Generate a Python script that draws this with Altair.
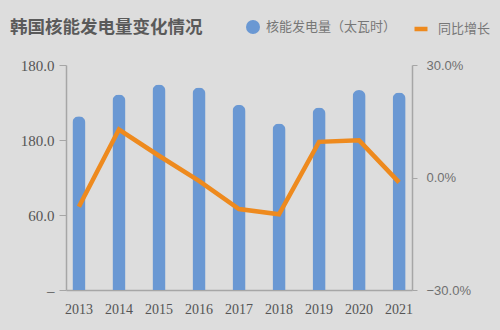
import altair as alt
import pandas as pd

years = ["2013", "2014", "2015", "2016", "2017", "2018", "2019", "2020", "2021"]
generation = [139.0, 156.4, 164.5, 162.0, 148.2, 133.3, 146.0, 160.0, 158.0]
growth_pct = [-7.8, 12.8, 5.8, -0.9, -8.4, -9.8, 9.5, 9.9, -1.3]

gen_name = "核能发电量（太瓦时）"
growth_name = "同比增长"

df = pd.DataFrame({
    "year": years,
    "gen": generation,
    "growth": [g / 100 for g in growth_pct],
    "gen_label": gen_name,
    "growth_label": growth_name,
})

BLUE = "#6A98D3"
ORANGE = "#EE8A1E"
AXIS = "#A6A6A6"

x_enc = alt.X(
    "year:N",
    title=None,
    scale=alt.Scale(paddingInner=0.675, paddingOuter=0.16),
    axis=alt.Axis(labelAngle=0, ticks=False, domain=True, domainColor=AXIS,
                  domainWidth=1.5, labelFont="Liberation Serif", labelFontSize=14,
                  labelColor="#555555", labelPadding=12),
)

bars = alt.Chart(df).mark_bar(
    cornerRadiusTopLeft=6.5, cornerRadiusTopRight=6.5
).encode(
    x=x_enc,
    y=alt.Y("gen:Q", title=None,
            scale=alt.Scale(domain=[0, 180], nice=False),
            axis=alt.Axis(values=[0, 60, 120, 180], grid=False,
                          labelExpr="datum.value == 0 ? '–' : (datum.value == 120 ? '180.0' : format(datum.value, '.1f'))",
                          tickSize=7, tickColor=AXIS, domainColor=AXIS, domainWidth=1.5,
                          labelPadding=5, labelFont="Liberation Serif", labelFontSize=15,
                          labelColor="#555555")),
    fill=alt.Fill("gen_label:N",
                  scale=alt.Scale(domain=[gen_name], range=[BLUE]),
                  legend=alt.Legend(title=None, orient="none", legendX=180, legendY=-45,
                                    symbolType="circle", symbolSize=196, symbolStrokeWidth=0,
                                    labelOffset=6, padding=0,
                                    labelFont="Noto Sans CJK SC", labelFontSize=13,
                                    labelColor="#777777")),
)

line = alt.Chart(df).mark_line(strokeWidth=4.5).encode(
    x=x_enc,
    y=alt.Y("growth:Q", title=None,
            scale=alt.Scale(domain=[-0.3, 0.3], nice=False),
            axis=alt.Axis(orient="right", values=[-0.3, 0, 0.3], format=".1%", grid=False,
                          tickSize=5, tickColor=AXIS, domainColor=AXIS, domainWidth=1.5,
                          labelPadding=9, labelFont="Liberation Sans", labelFontSize=13,
                          labelColor="#707070")),
    stroke=alt.Stroke("growth_label:N",
                      scale=alt.Scale(domain=[growth_name], range=[ORANGE]),
                      legend=alt.Legend(title=None, orient="none", legendX=346, legendY=-45,
                                        symbolType="stroke", symbolSize=169, symbolStrokeWidth=4.5,
                                        labelOffset=8, padding=0,
                                        labelFont="Noto Sans CJK SC", labelFontSize=13,
                                        labelColor="#777777")),
)

chart = alt.layer(bars, line).resolve_scale(
    y="independent", fill="independent", stroke="independent"
).properties(
    width=346, height=225,
    autosize="none",
    padding={"left": 66, "top": 65, "right": 88, "bottom": 40},
    background="#DDDDDD",
    title=alt.TitleParams("韩国核能发电量变化情况", anchor="start", frame="group",
                          dx=-56, offset=0, dy=16, font="Noto Sans CJK SC", fontSize=17.5,
                          fontWeight="bold", color="#5A5A5A"),
).configure_view(stroke=None)

chart.save("out.html", embed_options={"renderer": "svg", "actions": False})
